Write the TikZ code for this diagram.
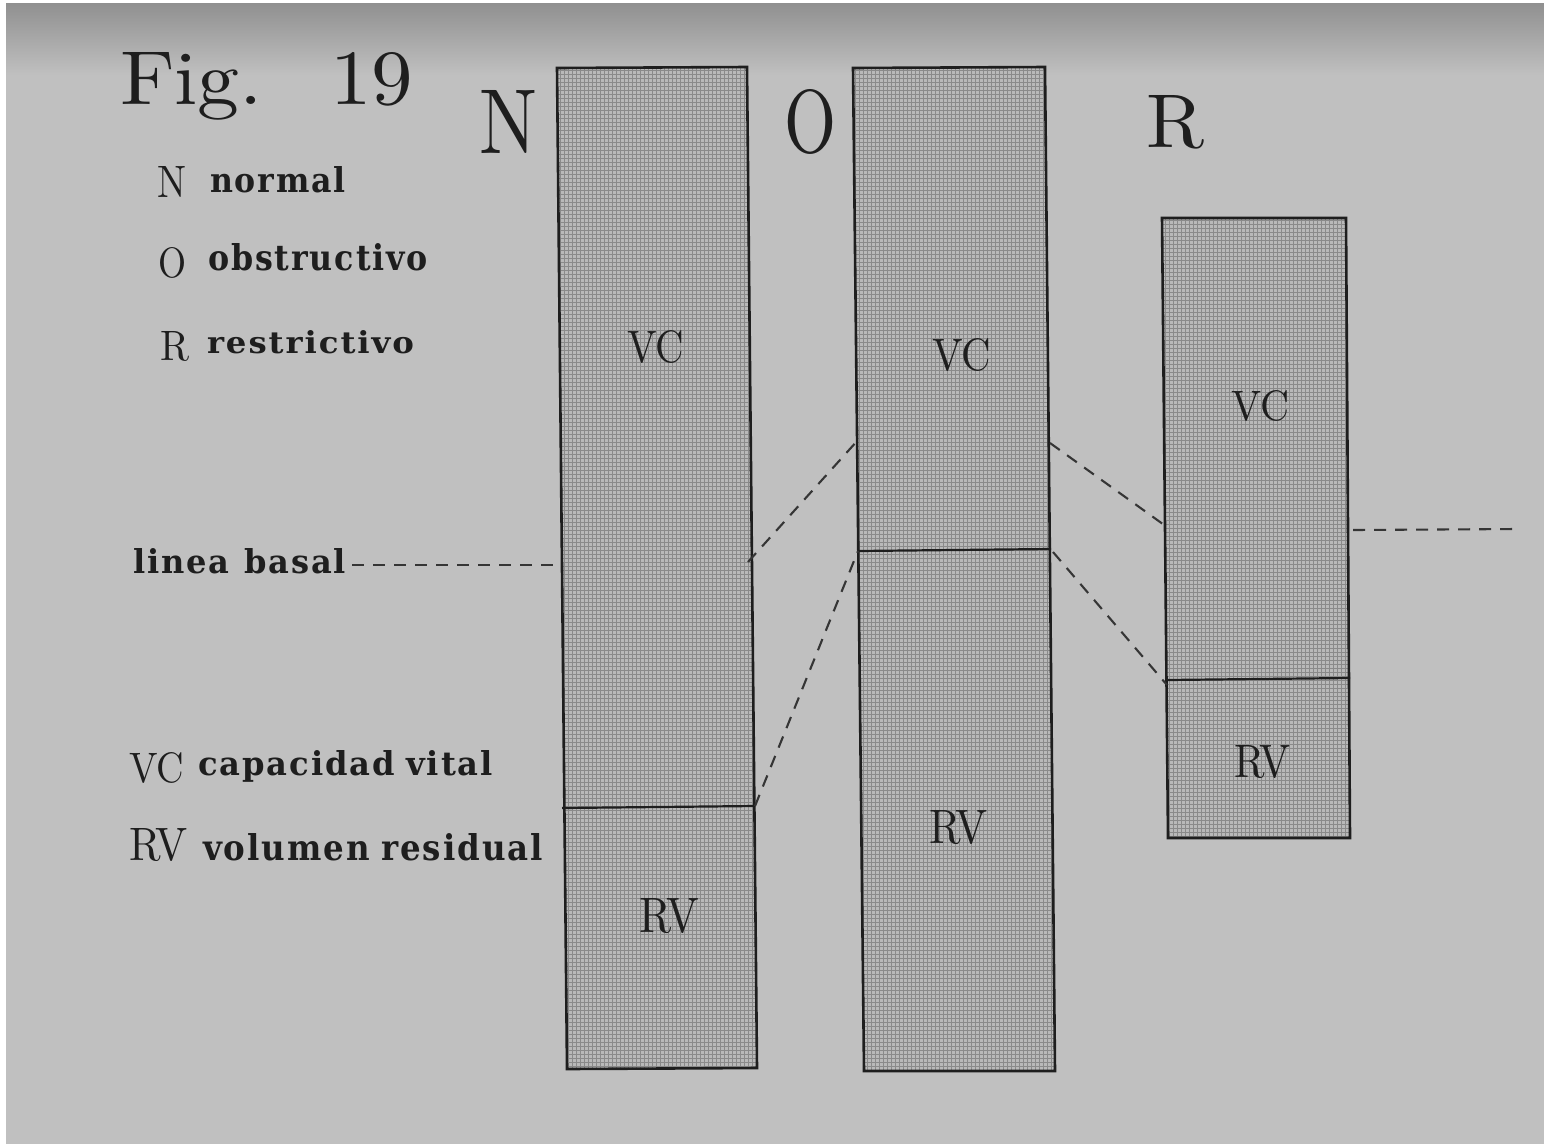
\documentclass[tikz,border=0pt]{standalone}
\usepackage{fontspec}
\usepackage{graphicx}
\newfontfamily\legfont[LetterSpace=6]{DejaVu Serif}
\definecolor{paper}{HTML}{C0C0C0}
\definecolor{paperdark}{HTML}{8E8E8E}
\definecolor{barfill}{HTML}{B9B9B9}
\definecolor{stipple}{HTML}{8A8A8A}
\definecolor{ink}{HTML}{1E1E1E}
\newcommand\fitxt[3]{\resizebox{#1pt}{#2pt}{#3}}
\newcommand\legtxt[3]{\resizebox{#1pt}{#2pt}{\legfont\bfseries #3}}
\tikzset{
  txt/.style={anchor=base west, inner sep=0pt, outer sep=0pt, text=ink},
  bar/.style={draw=ink, line width=2.6pt, line join=miter},
  barbg/.style={fill=barfill},
  stip/.style={draw=stipple, line width=0.8pt},
  split/.style={draw=ink, line width=2.2pt},
  dashlink/.style={draw=ink!90, line width=2.1pt, dash pattern=on 12pt off 9pt},
}
\begin{document}
\begin{tikzpicture}[x=1pt,y=-1pt]
\useasboundingbox (0,0) rectangle (1544,1144);
% paper
\fill[paper] (0,0) rectangle (1544,1144);
\shade[top color=paperdark, bottom color=paper] (0,0) rectangle (1544,75);
\fill[white] (0,0) rectangle (6,1144);
\fill[white] (0,0) rectangle (1544,3);

% bar N
\coordinate (Ntl) at (557,68);
\coordinate (Ntr) at (747,67);
\coordinate (Nbr) at (757,1068);
\coordinate (Nbl) at (567,1069);
\coordinate (Nsl) at (562,808);
\coordinate (Nsr) at (755,806);
\coordinate (Nbase) at (562,565);
\coordinate (Nmid) at (748,562);
% bar O
\coordinate (Otl) at (853,68);
\coordinate (Otr) at (1045,67);
\coordinate (Obr) at (1055,1071);
\coordinate (Obl) at (864,1071);
\coordinate (Osl) at (858,551);
\coordinate (Osr) at (1051,549);
\coordinate (Olm) at (858,440);
\coordinate (Orm) at (1050,443);
\coordinate (Osr2) at (1053,552);
% bar R
\coordinate (Rtl) at (1162,218);
\coordinate (Rtr) at (1346,218);
\coordinate (Rbr) at (1350,838);
\coordinate (Rbl) at (1168,838);
\coordinate (Rsl) at (1167,680);
\coordinate (Rsr) at (1350,678);
\coordinate (Rlm) at (1167,527);
\coordinate (Rll) at (1167,685);
\coordinate (Rrm) at (1353,530);
\coordinate (Rend) at (1517,529);
% basal line start
\coordinate (Bstart) at (352,565);

% bar fills with stipple texture
\begin{scope}
  \clip (Ntl) -- (Ntr) -- (Nbr) -- (Nbl) -- cycle;
  \fill[barbg] (550,60) rectangle (765,1075);
  \foreach \i in {552,556,...,764} \draw[stip] (\i,60) -- (\i,1075);
  \foreach \j in {62,66,...,1074} \draw[stip] (550,\j) -- (765,\j);
\end{scope}
\begin{scope}
  \clip (Otl) -- (Otr) -- (Obr) -- (Obl) -- cycle;
  \fill[barbg] (845,60) rectangle (1062,1078);
  \foreach \i in {847,851,...,1061} \draw[stip] (\i,60) -- (\i,1078);
  \foreach \j in {62,66,...,1078} \draw[stip] (845,\j) -- (1062,\j);
\end{scope}
\begin{scope}
  \clip (Rtl) -- (Rtr) -- (Rbr) -- (Rbl) -- cycle;
  \fill[barbg] (1155,210) rectangle (1358,845);
  \foreach \i in {1157,1161,...,1357} \draw[stip] (\i,210) -- (\i,845);
  \foreach \j in {212,216,...,844} \draw[stip] (1155,\j) -- (1358,\j);
\end{scope}

\path[bar] (Ntl) -- (Ntr) -- (Nbr) -- (Nbl) -- cycle;
\path[bar] (Otl) -- (Otr) -- (Obr) -- (Obl) -- cycle;
\path[bar] (Rtl) -- (Rtr) -- (Rbr) -- (Rbl) -- cycle;
\path[split] (Nsl) -- (Nsr);
\path[split] (Osl) -- (Osr);
\path[split] (Rsl) -- (Rsr);

% dashed connectors
\path[dashlink] (Bstart) -- (Nbase);
\path[dashlink] (Nmid) -- (Olm);
\path[dashlink] (Nsr) -- (Osl);
\path[dashlink] (Orm) -- (Rlm);
\path[dashlink] (Osr2) -- (Rll);
\path[dashlink] (Rrm) -- (Rend);

% title and big letters
\node[txt] (fig) at (120,104) {\fitxt{143}{52}{Fig.}};
\node[txt] (nineteen) at (330,104) {\fitxt{83}{52}{19}};
\node[txt] (bigN) at (479,153) {\fitxt{58}{63}{N}};
\node[txt] (bigO) at (784,152) {\fitxt{52}{63}{O}};
\node[txt] (bigR) at (1146,147) {\fitxt{58}{52}{R}};

% legend
\node[txt] (lN) at (157,197) {\fitxt{29}{31}{N}};
\node[txt] (lnormal) at (210,192.5) {\legtxt{136}{26}{normal}};
\node[txt] (lO) at (158,277) {\fitxt{28}{30}{O}};
\node[txt] (lobs) at (208,270) {\legtxt{220}{27}{obstructivo}};
\node[txt] (lR) at (160,360) {\fitxt{29}{29}{R}};
\node[txt] (lres) at (207,353) {\legtxt{207}{23}{restrictivo}};
\node[txt] (lbasal) at (133,573) {\legtxt{213}{25}{linea\hspace{0.45em}basal}};
\node[txt] (lVC) at (129,782) {\fitxt{55}{30}{VC}};
\node[txt] (lcap) at (198,775) {\legtxt{295}{25}{capacidad\hspace{0.35em}vital}};
\node[txt] (lRV) at (129,860) {\fitxt{59}{32}{RV}};
\node[txt] (lvol) at (203,860) {\legtxt{340}{27}{volumen\hspace{0.35em}residual}};

% bar labels
\node[txt] (nVC) at (627,362) {\fitxt{57}{32}{VC}};
\node[txt] (oVC) at (932,370) {\fitxt{59}{32}{VC}};
\node[txt] (rVC) at (1231,420) {\fitxt{58}{30}{VC}};
\node[txt] (nRV) at (639,932) {\fitxt{60}{34}{RV}};
\node[txt] (oRV) at (929,843) {\fitxt{59}{33}{RV}};
\node[txt] (rRV) at (1234,777) {\fitxt{57}{32}{RV}};
\end{tikzpicture}
\end{document}
